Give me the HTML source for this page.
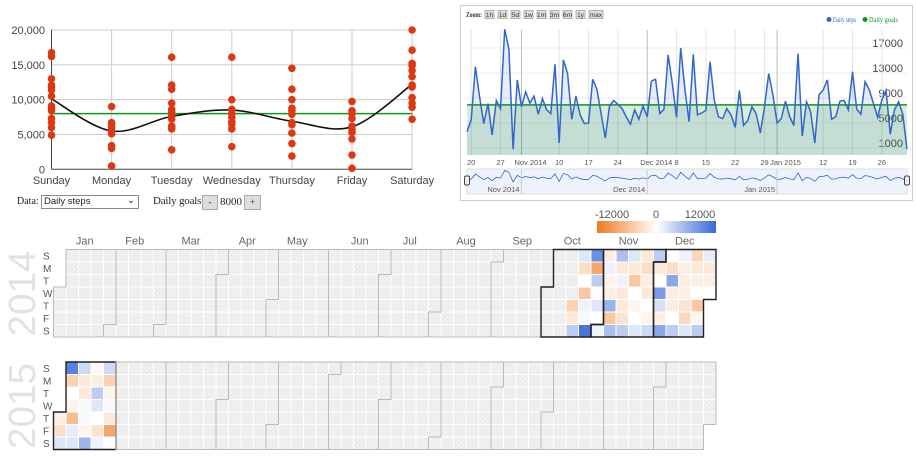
<!DOCTYPE html>
<html><head><meta charset="utf-8">
<style>
body{margin:0;background:#fff;width:916px;height:457px;overflow:hidden;font-family:"Liberation Sans",sans-serif;}
svg{position:absolute;left:0;top:0}
.ctl{position:absolute;font-family:"Liberation Serif",serif;font-size:11px;color:#222;white-space:nowrap}
</style></head>
<body>
<svg id="s" width="916" height="457"></svg>
<div class="ctl" style="left:17px;top:196px;font-size:10px">Data:</div>
<div class="ctl" style="left:41px;top:195px;width:94px;height:12px;border:1px solid #888;font-family:'Liberation Sans',sans-serif;font-size:9.5px;line-height:12px;padding-left:2px">Daily steps<span style="position:absolute;right:3px;top:-1px">&#8964;</span></div>
<div class="ctl" style="left:153px;top:195px;font-size:11px;letter-spacing:-0.2px">Daily goals</div>
<div class="ctl" style="left:202px;top:195px;width:14px;height:13px;border:1px solid #aaa;background:#ddd;text-align:center;font-size:9px;line-height:13px">-</div>
<div class="ctl" style="left:220px;top:196px;font-size:11px">8000</div>
<div class="ctl" style="left:244px;top:195px;width:15px;height:13px;border:1px solid #aaa;background:#ddd;text-align:center;font-size:9px;line-height:13px">+</div>
<script>
const NS="http://www.w3.org/2000/svg";
const svg=document.getElementById('s');
function mk(tag,attrs,parent){const e=document.createElementNS(NS,tag);for(const k in attrs)e.setAttribute(k,attrs[k]);(parent||svg).appendChild(e);return e;}
function tx(x,y,t,attrs,parent){const e=mk('text',Object.assign({x:x,y:y},attrs),parent);e.textContent=t;return e;}

// ---------- Scatter chart data ----------
const days=["Sunday","Monday","Tuesday","Wednesday","Thursday","Friday","Saturday"];
const sunVals=[16750,16200,13000,12100,11800,11400,10500,9100,8750,8400,7300,6700,6000,4900];
const monVals=[9000,6700,6400,6000,5500,5100,3400,3000,480];
const tueVals=[16100,12100,11500,9500,8600,8200,7600,7200,6200,5800,2800];
const wedVals=[16100,10000,8600,8000,7500,6800,6500,5800,3250];
const thuVals=[14500,11500,10000,8750,8400,7900,6700,6400,5200,3700,1900];
const friVals=[9750,8400,8000,7300,6200,5700,5300,4350,2050,150];
const satVals=[20000,17100,15200,14900,14200,13300,12100,11800,10300,9500,8900,7200];
const trendVals=[10100,5500,7600,8500,6900,6100,12200];
const goal=8000;
const yTicks=[0,5000,10000,15000,20000];
const yTickLabels=["0","5,000","10,000","15,000","20,000"];

const sx=i=>51.5+i*60.1, sy=v=>169.3-v/20000*139.3;
const g1=mk('g',{});


yTicks.forEach((t,i)=>{
  const l=mk('line',{x1:51.5,x2:412.5,y1:sy(t),y2:sy(t),stroke:i==0?'#444':'#ccc','stroke-width':1},g1);
  
  
  const t2=tx(45,sy(t)+4,yTickLabels[i],{'text-anchor':'end','font-size':11,fill:'#444'},g1);
  
  
});
days.forEach((d,i)=>{
  const l=mk('line',{x1:sx(i),x2:sx(i),y1:29.5,y2:169.3,stroke:i==0?'#444':'#ccc','stroke-width':1},g1);
  
  
  const t=tx(sx(i),184,d,{'text-anchor':'middle','font-size':11,fill:'#444'},g1);
  
  
});
const gl=mk('line',{x1:51.5,x2:412.5,y1:sy(goal),y2:sy(goal),stroke:'#109618','stroke-width':1.5},g1);


{
  const p=trendVals.map((v,i)=>[sx(i),sy(v)]);
  let d=`M${p[0][0]},${p[0][1]}`;
  for(let i=0;i<p.length-1;i++){
    const p0=p[Math.max(0,i-1)],p1=p[i],p2=p[i+1],p3=p[Math.min(p.length-1,i+2)];
    const c1=[p1[0]+(p2[0]-p0[0])/6,p1[1]+(p2[1]-p0[1])/6],c2=[p2[0]-(p3[0]-p1[0])/6,p2[1]-(p3[1]-p1[1])/6];
    d+=`C${c1[0]},${c1[1]} ${c2[0]},${c2[1]} ${p2[0]},${p2[1]}`;
  }
  const tr=mk('path',{d:d,fill:'none',stroke:'#111','stroke-width':1.6},g1);
  
  
}
[sunVals,monVals,tueVals,wedVals,thuVals,friVals,satVals].forEach((arr,i)=>{
  arr.forEach(v=>{
    const c=mk('circle',{cx:sx(i),cy:sy(v),r:3.8,fill:'#dc3912'},g1);
    
    
  });
});

// ---------- Time series chart ----------
const tsVals=[2800,4700,13200,8400,4100,7300,2300,7800,6500,19200,16000,0,11100,6800,9200,7400,8500,5600,8100,6300,5700,13600,1000,14300,12100,4800,8500,5500,4100,4200,11200,9600,5700,1800,6900,7800,7200,6500,5200,4000,6300,4800,6900,5200,10900,11200,5700,6400,15100,10500,5100,16200,9600,4400,15200,5500,5800,6200,14000,7900,5200,4900,6500,5500,3500,9400,3800,4600,6800,5700,2600,6800,12100,8700,4200,4900,7700,5200,3800,15300,2100,7600,6000,1000,8700,9500,11100,4800,5200,7700,7800,6300,12400,6400,5600,10800,9500,7300,5100,7900,9400,2400,6300,7600,5600,0];
const tsGoal=7100;
const tsTicks=[1000,5000,9000,13000,17000];
const tsXLabels=["20","27","Nov 2014","10","17","24","Dec 2014","8","15","22","29","Jan 2015","12","19","26"];
const tsXLabelDay=[1,8,13,22,29,36,43,50,57,64,71,74,85,92,99];
const navLabels=["Nov 2014","Dec 2014","Jan 2015"];
const navLabelDay=[13,43,74];
const zoomButtons=['1h','1d','5d','1w','1m','3m','6m','1y','max'];
const tx0=467,tx1=907;
const tdx=i=>tx0+i*(tx1-tx0)/(tsVals.length-1);
const tdy=v=>143-(v-1000)/4000*25;
const g2=mk('g',{});


mk('rect',{x:460.5,y:5.5,width:452,height:195,fill:'#fff',stroke:'#ccc'},g2);
tx(466,17,'Zoom:',{'font-size':7,'font-weight':'bold',fill:'#333','font-family':'Liberation Serif',textLength:16,lengthAdjust:'spacingAndGlyphs'},g2);
zoomButtons.reduce((x,b)=>{
  const w=b.length>2?14:9;
  const r=mk('rect',{x:x,y:10.5,width:w,height:8,fill:'#ddd',stroke:'#999','stroke-width':0.7},g2);
  
  
  tx(x+w/2,17,b,{'text-anchor':'middle','font-size':6.5,fill:'#333'},g2);
  return x+w+4;
},485);
tsTicks.forEach(t=>{
  mk('line',{x1:tx0,x2:tx1,y1:tdy(t)+5,y2:tdy(t)+5,stroke:'#eee'},g2);
  const l=tx(903,tdy(t)+4,String(t),{'text-anchor':'end','font-size':11,fill:'#444'},g2);
  
  
});
tsXLabelDay.forEach((d,i)=>{
  const x=tdx(d);
  mk('line',{x1:x,x2:x,y1:30,y2:155,stroke:(tsXLabels[i].length>3)?'#bbb':'#e4e4e4'},g2);
  const l=tx(x+(tsXLabels[i].length>3?-7:0),165,tsXLabels[i],{'text-anchor':tsXLabels[i].length>3?'start':'middle','font-size':7.5,fill:'#555'},g2);
  
  
});
{
  let d=tsVals.map((v,i)=>`${i?'L':'M'}${tdx(i)},${tdy(v)}`).join('');
  mk('path',{d:d+`L${tx1},155L${tx0},155Z`,fill:'#3366cc','fill-opacity':0.12},g2);
  const ga=mk('rect',{x:tx0,y:tdy(tsGoal),width:tx1-tx0,height:155-tdy(tsGoal),fill:'#109618','fill-opacity':0.16},g2);
  
  
  const gl2=mk('line',{x1:tx0,x2:tx1,y1:tdy(tsGoal),y2:tdy(tsGoal),stroke:'#109618','stroke-width':1.6},g2);
  
  
  const ln=mk('path',{d:d,fill:'none',stroke:'#3366cc','stroke-width':1.5},g2);
  
  
  mk('rect',{x:tx0,y:169,width:tx1-tx0,height:25,fill:'#eef2fc',stroke:'#ddd'},g2);
  const ny=v=>182-v/20000*12;
  const nd=tsVals.map((v,i)=>`${i?'L':'M'}${tdx(i)},${ny(v)}`).join('');
  const nl=mk('path',{d:nd,fill:'none',stroke:'#3366cc','stroke-width':0.8},g2);
  
  
  navLabelDay.forEach((dd,i)=>{
    mk('line',{x1:tdx(dd),x2:tdx(dd),y1:169,y2:194,stroke:'#ccc'},g2);
    tx(tdx(dd)-2,192,navLabels[i],{'text-anchor':'end','font-size':7.5,fill:'#555'},g2);
  });
  [tx0,tx1].forEach(x=>{
    const h=mk('rect',{x:x-2.5,y:176,width:5,height:9,rx:1.5,fill:'#eee',stroke:'#444'},g2);
    
    
  });
}
mk('circle',{cx:829,cy:19.5,r:2.5,fill:'#3366cc'},g2);
const lg1=tx(833,22,'Daily steps',{'font-size':7,fill:'#3366cc','font-family':'Liberation Serif',textLength:23,lengthAdjust:'spacingAndGlyphs'},g2);


mk('circle',{cx:865,cy:19.5,r:2.5,fill:'#109618'},g2);
const lg2=tx(869,22,'Daily goals',{'font-size':7,fill:'#109618','font-family':'Liberation Serif',textLength:29,lengthAdjust:'spacingAndGlyphs'},g2);



// ---------- Calendar heatmap ----------
const cal2014Start=41;
const cal2014=[
 [null,null,null,null,-4000,-2000,4000],
 [2000,-3000,0,-5000,1000,500,11000],
 [9000,-8000,4000,0,2000,0,1000],
 [-1500,1000,-1000,-1500,6000,-5000,5000],
 [5000,-2000,1000,-2000,-2000,-2500,4000],
 [2000,-2000,-5000,0,-1000,0,2000],
 [-2000,-3000,-1500,-2000,0,-1000,3000],
 [4000,-2000,0,8000,2500,-1500,7000],
 [0,-3000,7000,-1500,-1500,0,4000],
 [1000,-1500,-1500,-1500,-2500,-3500,2000],
 [-3500,-2000,-1500,0,-5000,-1000,4000],
 [1500,-2000,-1500,0,null,null,null]
];
const cal2015=[
 [null,null,null,null,-1500,-3000,2000],
 [10000,-4000,0,-1000,-6000,1500,2000],
 [3000,-2000,-2000,500,500,-1000,6000],
 [-500,-1500,4000,2000,0,-2500,1000],
 [3000,-4000,-1000,500,-2000,-8000,0]
];
const monthNames=["Jan","Feb","Mar","Apr","May","Jun","Jul","Aug","Sep","Oct","Nov","Dec"];
const cs=12.5, cx0=53.5;
const defs=mk('defs',{});
const pat=mk('pattern',{id:'hatch',width:3,height:3,patternUnits:'userSpaceOnUse',patternTransform:'rotate(45)'},defs);
mk('rect',{width:3,height:3,fill:'#ebebeb'},pat);
mk('line',{x1:0,y1:0,x2:0,y2:3,stroke:'#fff','stroke-width':1},pat);
const grad=mk('linearGradient',{id:'lg'},defs);
mk('stop',{offset:'0','stop-color':'#f07a1e'},grad);
mk('stop',{offset:'0.5','stop-color':'#ffffff'},grad);
mk('stop',{offset:'1','stop-color':'#3868d8'},grad);
function color(v){
  const t=Math.max(-1,Math.min(1,v/12000));
  const a=t<0?[240,122,30]:[56,104,216];const k=Math.abs(t);
  return `rgb(${Math.round(255+(a[0]-255)*k)},${Math.round(255+(a[1]-255)*k)},${Math.round(255+(a[2]-255)*k)})`;
}
function drawYear(year,y0,startCol,vals){
  const g=mk('g',{});
  
  
  const yl=tx(0,0,String(year),{'font-size':38,fill:'#e2e2e2',transform:`translate(35,${y0+44}) rotate(-90)`,'text-anchor':'middle',textLength:86,lengthAdjust:'spacingAndGlyphs'},g);
  
  
  ['S','M','T','W','T','F','S'].forEach((d,i)=>{
    const t=tx(43,y0+i*cs+10,d,{'font-size':10,fill:'#555'},g);
    
    
  });
  const first=new Date(year,0,1), off=first.getDay();
  const dayCount=(year%4==0)?366:365;
  for(let i=0;i<dayCount;i++){
    const idx=i+off, col=Math.floor(idx/7), row=idx%7;
    let v=null; const vc=col-startCol;
    if(vc>=0&&vc<vals.length) v=vals[vc][row];
    const r=mk('rect',{x:cx0+col*cs,y:y0+row*cs,width:cs,height:cs,fill:v===null?'url(#hatch)':color(v),stroke:'#fff','stroke-width':1},g);
    
    
  }
  for(let m=0;m<12;m++){
    const a=new Date(year,m,1), b=new Date(year,m+1,0);
    const ia=Math.round((a-first)/864e5)+off, ib=Math.round((b-first)/864e5)+off;
    const c1=Math.floor(ia/7),r1=ia%7,c2=Math.floor(ib/7),r2=ib%7;
    const X=c=>cx0+c*cs, Y=r=>y0+r*cs;
    let hasData=false;
    for(let c=c1;c<=c2;c++){const vc=c-startCol;if(vc>=0&&vc<vals.length&&vals[vc].some(x=>x!==null))hasData=true;}
    const p=mk('path',{d:`M${X(c1+1)},${Y(r1)}H${X(c1)}V${Y(7)}H${X(c2)}V${Y(r2+1)}H${X(c2+1)}V${Y(0)}H${X(c1+1)}Z`,fill:'none',stroke:hasData?'#222':'#bbb','stroke-width':hasData?1.4:1},g);
    
    
    if(year===2014){
      const t=tx((X(c1)+X(c2+1))/2,y0-5,monthNames[m],{'text-anchor':'middle','font-size':11,fill:'#666'},g);
      
      
    }
  }
}
drawYear(2014,249.5,cal2014Start,cal2014);
drawYear(2015,362,0,cal2015);
const lb=mk('rect',{x:597,y:221,width:119,height:12,fill:'url(#lg)'});


const legendTicks=["-12000","0","12000"];
legendTicks.forEach((t,i)=>{
  const e=tx([612,656,700][i],218,t,{'text-anchor':'middle','font-size':11,fill:'#555'});
  
  
});
</script>
</body></html>
